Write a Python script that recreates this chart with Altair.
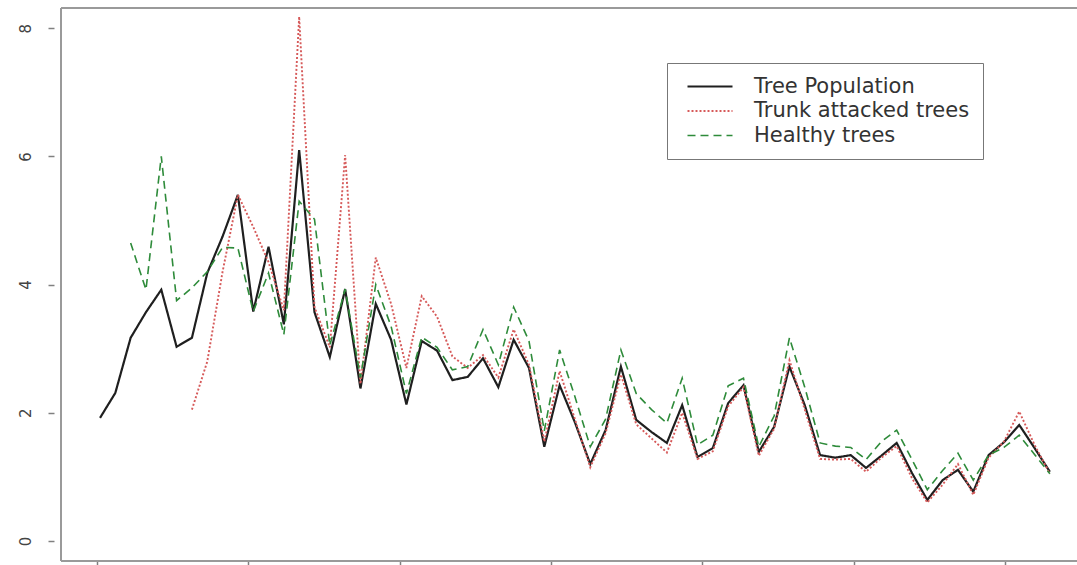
import altair as alt
import pandas as pd

# Sampling steps along the horizontal axis
step = list(range(63))

tree_population = [
    1.92, 2.31, 3.17, 3.57, 3.92, 3.03, 3.17, 4.18, 4.75, 5.40,
    3.58, 4.59, 3.38, 6.10, 3.57, 2.87, 3.93, 2.38, 3.70, 3.14,
    2.13, 3.12, 2.97, 2.51, 2.56, 2.85, 2.40, 3.14, 2.70, 1.47,
    2.43, 1.85, 1.20, 1.73, 2.72, 1.89, 1.70, 1.53, 2.12, 1.31,
    1.45, 2.15, 2.43, 1.39, 1.78, 2.72, 2.12, 1.34, 1.30, 1.34,
    1.14, 1.33, 1.53, 1.06, 0.64, 0.95, 1.11, 0.77, 1.34, 1.54,
    1.81, 1.45, 1.08,
]

trunk_attacked = [None] * 6 + [
    2.05, 2.80, 4.20, 5.40,
    4.90, 4.35, 3.60, 8.18, 3.65, 3.02, 6.02, 2.45, 4.42, 3.70,
    2.70, 3.82, 3.50, 2.88, 2.70, 2.90, 2.55, 3.30, 2.75, 1.55,
    2.65, 1.90, 1.15, 1.68, 2.60, 1.82, 1.60, 1.38, 2.00, 1.28,
    1.40, 2.10, 2.40, 1.33, 1.75, 2.82, 2.05, 1.28, 1.27, 1.28,
    1.08, 1.30, 1.48, 0.98, 0.60, 0.88, 1.20, 0.72, 1.30, 1.55,
    2.02, 1.50, 1.05,
]

healthy = [None] * 2 + [
    4.65, 3.92, 6.00, 3.75, 3.95, 4.20, 4.58, 4.57,
    3.58, 4.18, 3.22, 5.30, 5.02, 3.05, 3.93, 2.55, 4.00, 3.35,
    2.30, 3.18, 3.02, 2.67, 2.72, 3.30, 2.75, 3.65, 3.12, 1.72,
    2.98, 2.25, 1.47, 1.90, 2.98, 2.30, 2.05, 1.84, 2.54, 1.50,
    1.65, 2.42, 2.54, 1.47, 1.95, 3.17, 2.40, 1.53, 1.48, 1.46,
    1.27, 1.55, 1.73, 1.27, 0.80, 1.10, 1.37, 0.95, 1.34, 1.46,
    1.65, 1.35, 1.05,
]

series_names = ["Tree Population", "Trunk attacked trees", "Healthy trees"]
series_colors = ["#1f1f1f", "#d65a5a", "#2e8b3a"]
series_dashes = [[1, 0], [2, 2], [8, 5]]
series_widths = [2.2, 1.6, 2.6]

x_ticks = [-0.2, 9.68, 19.56, 29.44, 39.31, 49.19, 59.07]
y_ticks = [0, 2, 4, 6, 8]

rows = []
for order, (name, vals) in enumerate(zip(series_names, [tree_population, trunk_attacked, healthy])):
    for s, v in zip(step, vals):
        if v is not None:
            rows.append({"step": s, "value": v, "series": name, "order": order})
df = pd.DataFrame(rows)

W, H = 1016, 553
FRAME = "#9a9a9a"

legend = alt.Legend(
    title=None, orient="none", legendX=606, legendY=55,
    symbolType="stroke", symbolSize=2025, symbolStrokeWidth=2,
    labelFont="DejaVu Sans", labelFontSize=21, labelColor="#333333",
    labelLimit=500, labelOffset=20, symbolOffset=6, padding=13,
    rowPadding=2.5, clipHeight=21,
    strokeColor="#777777", fillColor="white",
)

lines = alt.Chart(df).mark_line(clip=True).encode(
    x=alt.X(
        "step:Q",
        scale=alt.Scale(domain=[-2.546, 63.77], nice=False, zero=False),
        axis=alt.Axis(values=x_ticks, labels=False, title=None, domain=False,
                      grid=False, tickSize=4, tickColor="#808080", tickWidth=1.5),
    ),
    y=alt.Y(
        "value:Q",
        scale=alt.Scale(domain=[-0.312, 8.315], nice=False, zero=False),
        axis=alt.Axis(values=y_ticks, title=None, domain=False, grid=False,
                      offset=7, tickSize=6, tickColor="#808080", tickWidth=1.5,
                      labelAngle=270, labelAlign="center", labelBaseline="middle",
                      labelPadding=23, labelFont="DejaVu Sans", labelFontSize=15,
                      labelColor="#444444"),
    ),
    color=alt.Color("series:N", scale=alt.Scale(domain=series_names, range=series_colors),
                    legend=legend),
    strokeDash=alt.StrokeDash("series:N", scale=alt.Scale(domain=series_names, range=series_dashes),
                              legend=legend),
    strokeWidth=alt.StrokeWidth("series:N", scale=alt.Scale(domain=series_names, range=series_widths),
                                legend=None),
    order="order:Q",
)

frame_top = alt.Chart(df).mark_rule(color=FRAME, strokeWidth=2).encode(
    x=alt.value(0), x2=alt.value(W), y=alt.value(0))
frame_left = alt.Chart(df).mark_rule(color=FRAME, strokeWidth=2).encode(
    x=alt.value(0), y=alt.value(0), y2=alt.value(H))
frame_bottom = alt.Chart(df).mark_rule(color=FRAME, strokeWidth=2).encode(
    x=alt.value(0), x2=alt.value(W), y=alt.value(H))

chart = alt.layer(frame_top, frame_left, frame_bottom, lines).properties(
    width=W, height=H,
    autosize=alt.AutoSizeParams(type="none"),
    padding={"left": 61, "top": 8, "right": 0, "bottom": 4},
    background="white",
).configure_view(stroke=None)

chart.save("out.html", embed_options={"renderer": "svg", "actions": False})
